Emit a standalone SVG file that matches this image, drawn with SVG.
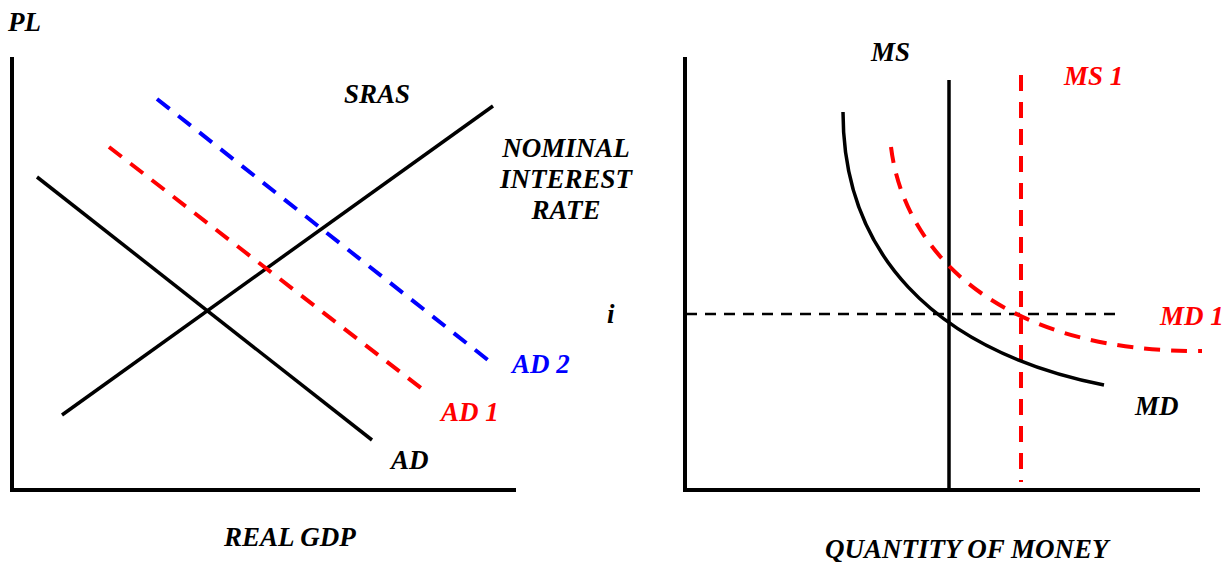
<svg xmlns="http://www.w3.org/2000/svg" width="1228" height="562" viewBox="0 0 1228 562">
<style>
text{font-family:"Liberation Serif","Times New Roman",serif;font-weight:bold;font-style:italic;font-size:27px;fill:#000}
.red{fill:#ff0000}
.blue{fill:#0000ff}
.axis{stroke:#000;stroke-width:4;fill:none}
.solid{stroke:#000;stroke-width:3.5;fill:none}
.rdash{stroke:#ff0000;stroke-width:4;fill:none;stroke-dasharray:16 11}
.bdash{stroke:#0000ff;stroke-width:4;fill:none;stroke-dasharray:16 11}
.kdash{stroke:#000;stroke-width:2.5;fill:none;stroke-dasharray:11 8}
</style>
<rect width="1228" height="562" fill="#fff"/>
<g id="left-axes">
<path class="axis" d="M12,57 V490 H516"/>
<text x="8" y="31">PL</text>
<text x="224" y="546">REAL GDP</text>
</g>
<g id="right-axes">
<path class="axis" d="M685,57 V490 H1200"/>
<text x="607" y="323">i</text>
<text x="825" y="558">QUANTITY OF MONEY</text>
</g>
<g id="nominal-label">
<text x="566" y="157" text-anchor="middle">NOMINAL</text>
<text x="566" y="188" text-anchor="middle">INTEREST</text>
<text x="566" y="219" text-anchor="middle">RATE</text>
</g>
<g id="connectors">
<line id="sras" class="solid" x1="62" y1="415" x2="493" y2="106"/>
<line id="ad" class="solid" x1="37" y1="177" x2="372" y2="440"/>
<line id="ad1" class="rdash" x1="109" y1="147" x2="421" y2="388"/>
<line id="ad2" class="bdash" x1="157" y1="99" x2="493" y2="364"/>
<line id="ms" class="solid" x1="949" y1="80" x2="949" y2="490"/>
<line id="ms1" class="rdash" x1="1021" y1="75" x2="1021" y2="482"/>
<line id="i-line" class="kdash" x1="686" y1="314" x2="1118" y2="314"/>
<path id="md" class="solid" d="M843,112 C843,250 930,350 1104,385"/>
<path id="md1" class="rdash" d="M891,147 C905,260 1010,353 1202,351"/>
</g>
<g id="labels">
<text x="344" y="103">SRAS</text>
<text x="391" y="469">AD</text>
<text class="red" x="441" y="421">AD 1</text>
<text class="blue" x="512" y="373">AD 2</text>
<text x="871" y="61">MS</text>
<text class="red" x="1064" y="85">MS 1</text>
<text class="red" x="1160" y="325">MD 1</text>
<text x="1135" y="415">MD</text>
</g>
</svg>
